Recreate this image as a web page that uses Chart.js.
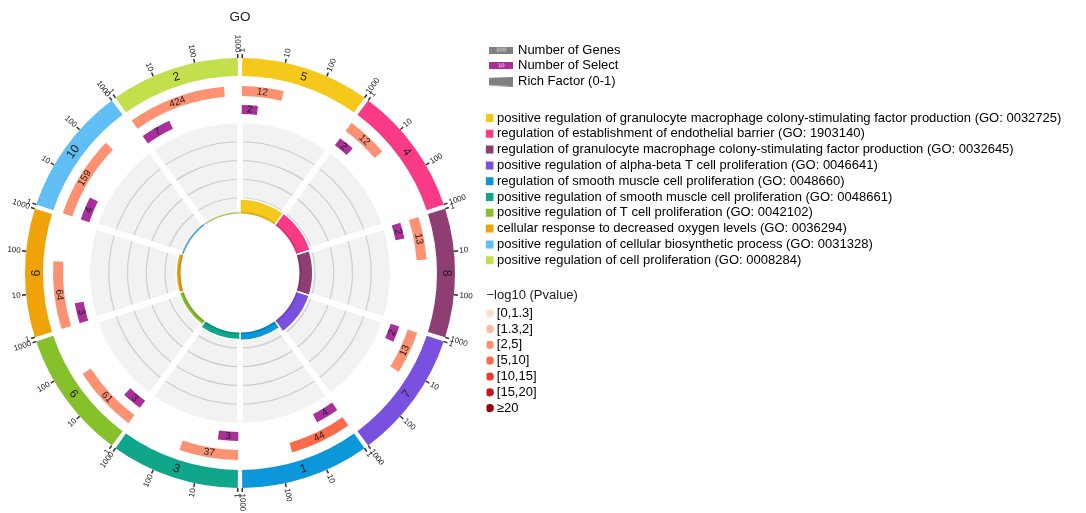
<!DOCTYPE html>
<html>
<head>
<meta charset="utf-8">
<script src="https://cdn.jsdelivr.net/npm/chart.js@4.4.1/dist/chart.umd.min.js"></script>
<style>
body { margin: 0; background: #fff; width: 1086px; height: 513px; position: relative; overflow: hidden; }
canvas { position: absolute; }
</style>
</head>
<body>
<canvas id="core" width="300" height="300" style="left:90px;top:123px"></canvas>
<canvas id="rings" width="480" height="513" style="left:0;top:0"></canvas>
<canvas id="legCounts" width="500" height="60" style="left:488px;top:40px"></canvas>
<canvas id="legTerms" width="1300" height="170" style="left:485px;top:108px"></canvas>
<canvas id="legP" width="400" height="150" style="left:486px;top:287px"></canvas>
<script>
// GO terms, clockwise from 12 o'clock
const goTerms = [
	'positive regulation of granulocyte macrophage colony-stimulating factor production (GO: 0032725)',
	'regulation of establishment of endothelial barrier (GO: 1903140)',
	'regulation of granulocyte macrophage colony-stimulating factor production (GO: 0032645)',
	'positive regulation of alpha-beta T cell proliferation (GO: 0046641)',
	'regulation of smooth muscle cell proliferation (GO: 0048660)',
	'positive regulation of smooth muscle cell proliferation (GO: 0048661)',
	'positive regulation of T cell proliferation (GO: 0042102)',
	'cellular response to decreased oxygen levels (GO: 0036294)',
	'positive regulation of cellular biosynthetic process (GO: 0031328)',
	'positive regulation of cell proliferation (GO: 0008284)'
];
const termRank = ['5', '4', '8', '7', '1', '3', '6', '9', '10', '2'];
const termColors = ['#f6c81b', '#fa3a86', '#8e3e72', '#7a50de', '#0b97da', '#10a68b', '#86c02b', '#f0a309', '#61bff5', '#c2e04b'];
const geneCounts = [12, 12, 13, 13, 44, 37, 61, 64, 159, 424];
const selectCounts = [2, 2, 2, 2, 4, 3, 3, 3, 4, 7];
const richFactor = [0.167, 0.167, 0.154, 0.154, 0.091, 0.081, 0.049, 0.047, 0.025, 0.017];
const negLog10P = [3.8, 3.9, 3.4, 3.5, 5.6, 4.2, 3.6, 3.3, 3.2, 4.6];
const axisTicks = [1, 10, 100, 1000];

const pBins = ['[0,1.3]', '[1.3,2]', '[2,5]', '[5,10]', '[10,15]', '[15,20]', '\u226520'];
const pBinFloor = [0, 1.3, 2, 5, 10, 15, 20];
const pBinColors = ['#fee0d2', '#fcbba1', '#fc9272', '#fb6a4a', '#ef3b2c', '#cb181d', '#99000d'];
const countLegend = ['Number of Genes', 'Number of Select', 'Rich Factor (0-1)'];

const FONT = "'Liberation Sans', Arial, Helvetica, sans-serif";
const selectColor = '#aa2f9b';
const CLEAR = 'rgba(0,0,0,0)';

Chart.defaults.font.family = FONT;
Chart.defaults.color = '#222';
Chart.defaults.animation = false;

function pColor(v){
	let k = 0;
	for(let i=0; i<pBinFloor.length; i++) if(v >= pBinFloor[i]) k = i;
	return pBinColors[k];
}

// sectors: equal share of the circle, small gap centred on each border
const GAP = 1.2;
const SPAN = 360 / goTerms.length - GAP;
function sectorStart(i){ return i * 360 / goTerms.length + GAP / 2; }
function axisPos(v){ return Math.log10(v) / Math.log10(1000); }

// turn a list of arcs (degrees) into doughnut data with see-through fillers
function ring(parts){
	const data = [], colors = [], texts = [];
	let at = 0;
	parts.forEach(p => {
		if(p.from > at){ data.push(p.from - at); colors.push(CLEAR); texts.push(null); }
		data.push(p.to - p.from); colors.push(p.color); texts.push(p.text);
		at = p.to;
	});
	if(at < 360){ data.push(360 - at); colors.push(CLEAR); texts.push(null); }
	return { data: data, backgroundColor: colors, texts: texts };
}

var tickParts = [], bandParts = [], geneParts = [], selParts = [];
for(let i=0; i<goTerms.length; i++){
	const s = sectorStart(i);
	axisTicks.forEach(v => {
		const p = s + SPAN * axisPos(v);
		tickParts.push({from: p - 0.2, to: p + 0.2, color: '#333', text: String(v)});
	});
	bandParts.push({from: s, to: s + SPAN, color: termColors[i], text: termRank[i]});
	geneParts.push({from: s, to: s + SPAN * axisPos(geneCounts[i] + 1), color: pColor(negLog10P[i]), text: String(geneCounts[i])});
	selParts.push({from: s, to: s + SPAN * axisPos(selectCounts[i] + 1), color: selectColor, text: String(selectCounts[i])});
}

// labels written on the arcs
const arcText = {
	id: 'arcText',
	afterDatasetsDraw(chart){
		const ctx = chart.ctx;
		chart.data.datasets.forEach((ds, di) => {
			if(!ds.texts) return;
			const meta = chart.getDatasetMeta(di);
			meta.data.forEach((arc, i) => {
				const t = ds.texts[i];
				if(t == null) return;
				const a = (arc.startAngle + arc.endAngle) / 2;
				let deg = a * 180 / Math.PI + 90;
				deg = ((deg % 360) + 360) % 360;
				ctx.save();
				ctx.font = ds.textFont;
				ctx.fillStyle = ds.textColor;
				ctx.textBaseline = 'middle';
				if(ds.textMode == 'radial'){
					const r = arc.outerRadius + 1.5;
					ctx.translate(arc.x + r * Math.cos(a), arc.y + r * Math.sin(a));
					if(deg < 180){ ctx.rotate((deg - 90) * Math.PI / 180); ctx.textAlign = 'left'; }
					else{ ctx.rotate((deg + 90) * Math.PI / 180); ctx.textAlign = 'right'; }
				}else{
					const r = (arc.innerRadius + arc.outerRadius) / 2;
					ctx.translate(arc.x + r * Math.cos(a), arc.y + r * Math.sin(a));
					let rot = deg;
					if(deg > 90.01 && deg < 270.01) rot = deg - 180;
					ctx.rotate(rot * Math.PI / 180);
					ctx.textAlign = 'center';
				}
				ctx.fillText(t, 0, 0);
				ctx.restore();
			});
		});
	}
};

// inner track: rich factor bars on a grey disc
new Chart(document.getElementById('core'), {
	type: 'polarArea',
	data: {
		labels: goTerms,
		datasets: [{
			data: richFactor,
			backgroundColor: termColors,
			borderColor: '#fff',
			borderWidth: 1.5
		},{
			data: goTerms.map(() => 2),
			backgroundColor: CLEAR,
			borderColor: '#fff',
			borderWidth: 6
		}]
	},
	options: {
		responsive: false,
		plugins: { legend: {display: false}, tooltip: {enabled: false} },
		scales: {
			r: {
				min: -0.72,
				max: 1.08,
				startAngle: 0,
				backgroundColor: '#f2f2f2',
				ticks: { display: false, count: 9 },
				grid: {
					circular: true,
					lineWidth: 1.2,
					color: c => (c.tick && c.tick.value > 0 && c.tick.value < 1) ? '#cdcdcd' : CLEAR
				},
				angleLines: { display: false },
				pointLabels: { display: false }
			}
		}
	}
});

// outer rings: axis ticks, term band, gene counts, selected counts
new Chart(document.getElementById('rings'), {
	type: 'doughnut',
	data: {
		labels: [],
		datasets: [
			Object.assign(ring(tickParts), {weight: 4, textMode: 'radial', textFont: '8px ' + FONT, textColor: '#222'}),
			Object.assign(ring(bandParts), {weight: 18, textMode: 'tangent', textFont: '12px ' + FONT, textColor: '#222'}),
			{data: [1], backgroundColor: [CLEAR], weight: 10},
			Object.assign(ring(geneParts), {weight: 10, textMode: 'tangent', textFont: '10px ' + FONT, textColor: '#222'}),
			{data: [1], backgroundColor: [CLEAR], weight: 9},
			Object.assign(ring(selParts), {weight: 9, textMode: 'tangent', textFont: '10px ' + FONT, textColor: '#222'}),
			{data: [1], backgroundColor: [CLEAR], weight: 97.5},
			{data: [1], backgroundColor: ['rgba(0,0,0,0.13)'], weight: 2},
			{data: [1], backgroundColor: ['#ffffff'], weight: 59.5}
		]
	},
	options: {
		responsive: false,
		radius: 219,
		cutout: 0,
		hoverOffset: 0,
		elements: { arc: { borderWidth: 0 } },
		layout: { padding: {left: 21, right: 21, top: 0, bottom: 21} },
		plugins: {
			legend: {display: false},
			tooltip: {enabled: false},
			title: {
				display: true,
				text: 'GO',
				color: '#222',
				font: {size: 13.5, weight: 'normal'},
				padding: {top: 8.9, bottom: 28.9}
			}
		}
	},
	plugins: [arcText]
});

// legend helpers
function icon(w, h, draw){
	const c = document.createElement('canvas');
	c.width = w; c.height = h;
	draw(c.getContext('2d'));
	return c;
}
const genesIcon = icon(24, 7, g => {
	g.fillStyle = '#808080'; g.fillRect(0, 0, 24, 7);
	g.fillStyle = '#e8e8e8'; g.font = '6px ' + FONT; g.textAlign = 'center'; g.textBaseline = 'middle';
	g.fillText('100', 12, 3.8);
});
const selectIcon = icon(24, 7, g => {
	g.fillStyle = selectColor; g.fillRect(0, 0, 24, 7);
	g.fillStyle = '#f0f0f0'; g.font = '6px ' + FONT; g.textAlign = 'center'; g.textBaseline = 'middle';
	g.fillText('10', 12, 3.8);
});
const richIcon = icon(24, 10, g => {
	g.fillStyle = '#808080';
	g.beginPath(); g.moveTo(0, 1.3); g.lineTo(24, 0); g.lineTo(24, 10); g.lineTo(0, 8.7); g.closePath(); g.fill();
});
const countIcons = [genesIcon, selectIcon, richIcon];

function legendOnly(id, items, labels, pad, title){
	new Chart(document.getElementById(id), {
		type: 'doughnut',
		data: { labels: [], datasets: [] },
		options: {
			responsive: false,
			layout: { padding: pad },
			plugins: {
				tooltip: {enabled: false},
				title: title || {display: false},
				legend: {
					position: 'left',
					align: 'start',
					fullSize: false,
					labels: Object.assign({
						usePointStyle: true,
						padding: 2.8,
						color: '#222',
						font: {size: 13},
						generateLabels: () => items
					}, labels)
				}
			}
		}
	});
}

legendOnly('legCounts',
	countLegend.map((t, i) => ({text: t, pointStyle: countIcons[i], fillStyle: '#808080', strokeStyle: CLEAR, lineWidth: 0, hidden: false})),
	{boxWidth: 20.4, pointStyleWidth: 20.4},
	{left: 0.3, top: 0.7});

legendOnly('legTerms',
	goTerms.map((t, i) => ({text: t, pointStyle: 'rect', fillStyle: termColors[i], strokeStyle: CLEAR, lineWidth: 0, hidden: false})),
	{boxWidth: 2, boxHeight: 8},
	{left: 0.7, top: 0.7});

legendOnly('legP',
	pBins.map((t, i) => ({text: t, pointStyle: 'circle', fillStyle: pBinColors[i], strokeStyle: CLEAR, lineWidth: 0, hidden: false})),
	{boxWidth: 1, boxHeight: 5.8},
	{left: 0.5, top: 0.2},
	{display: true, text: '\u2212log10 (Pvalue)', align: 'start', position: 'top', color: '#222', font: {size: 13, weight: 'normal'}, padding: {top: 0, bottom: 1.2}});
</script>
</body>
</html>
